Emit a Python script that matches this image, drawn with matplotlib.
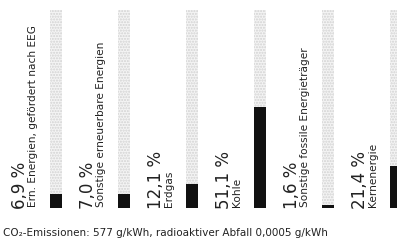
import matplotlib
matplotlib.use("Agg")
from matplotlib import pyplot as plt
import numpy as np

# share of each energy source (%)
sources = ["Ern. Energien, gefördert nach EEG",
           "Sonstige erneuerbare Energien",
           "Erdgas",
           "Kohle",
           "Sonstige fossile Energieträger",
           "Kernenergie"]
shares = [6.9, 7.0, 12.1, 51.1, 1.6, 21.4]
full_scale = 100
caption = "CO\u2082-Emissionen: 577 g/kWh, radioaktiver Abfall 0,0005 g/kWh"

plt.rcParams['font.family'] = ['DejaVu Sans']

fig = plt.figure(figsize=(3.97, 2.43), dpi=100)
ax = fig.add_axes([0, 35/243, 1, 198/243])

x = np.arange(len(shares))
# light dotted background column = 100 %
ax.bar(x, [full_scale]*len(x), width=0.176, color='#f4f4f4',
       edgecolor='#d2d2d2', hatch='......', linewidth=0)
ax.bar(x, shares, width=0.176, color='#111111', linewidth=0)

for xi, v, name in zip(x, shares, sources):
    pct = "{:.1f}".format(v).replace('.', ',') + " %"
    ax.text(xi - 0.455, -0.5, pct, rotation=90, rotation_mode='anchor',
            ha='left', va='baseline', fontsize=12, color='#222222')
    ax.text(xi - 0.30, 0.5, name, rotation=90, rotation_mode='anchor',
            ha='left', va='baseline', fontsize=7.6, color='#222222')

ax.set_xlim(-56/68, (397-56)/68)
ax.set_ylim(0, full_scale)
ax.axis('off')

fig.text(3/397, 1 - 236/243, caption, fontsize=7.5, color='#222222',
         ha='left', va='baseline')

fig.savefig('out.png', dpi=100)
